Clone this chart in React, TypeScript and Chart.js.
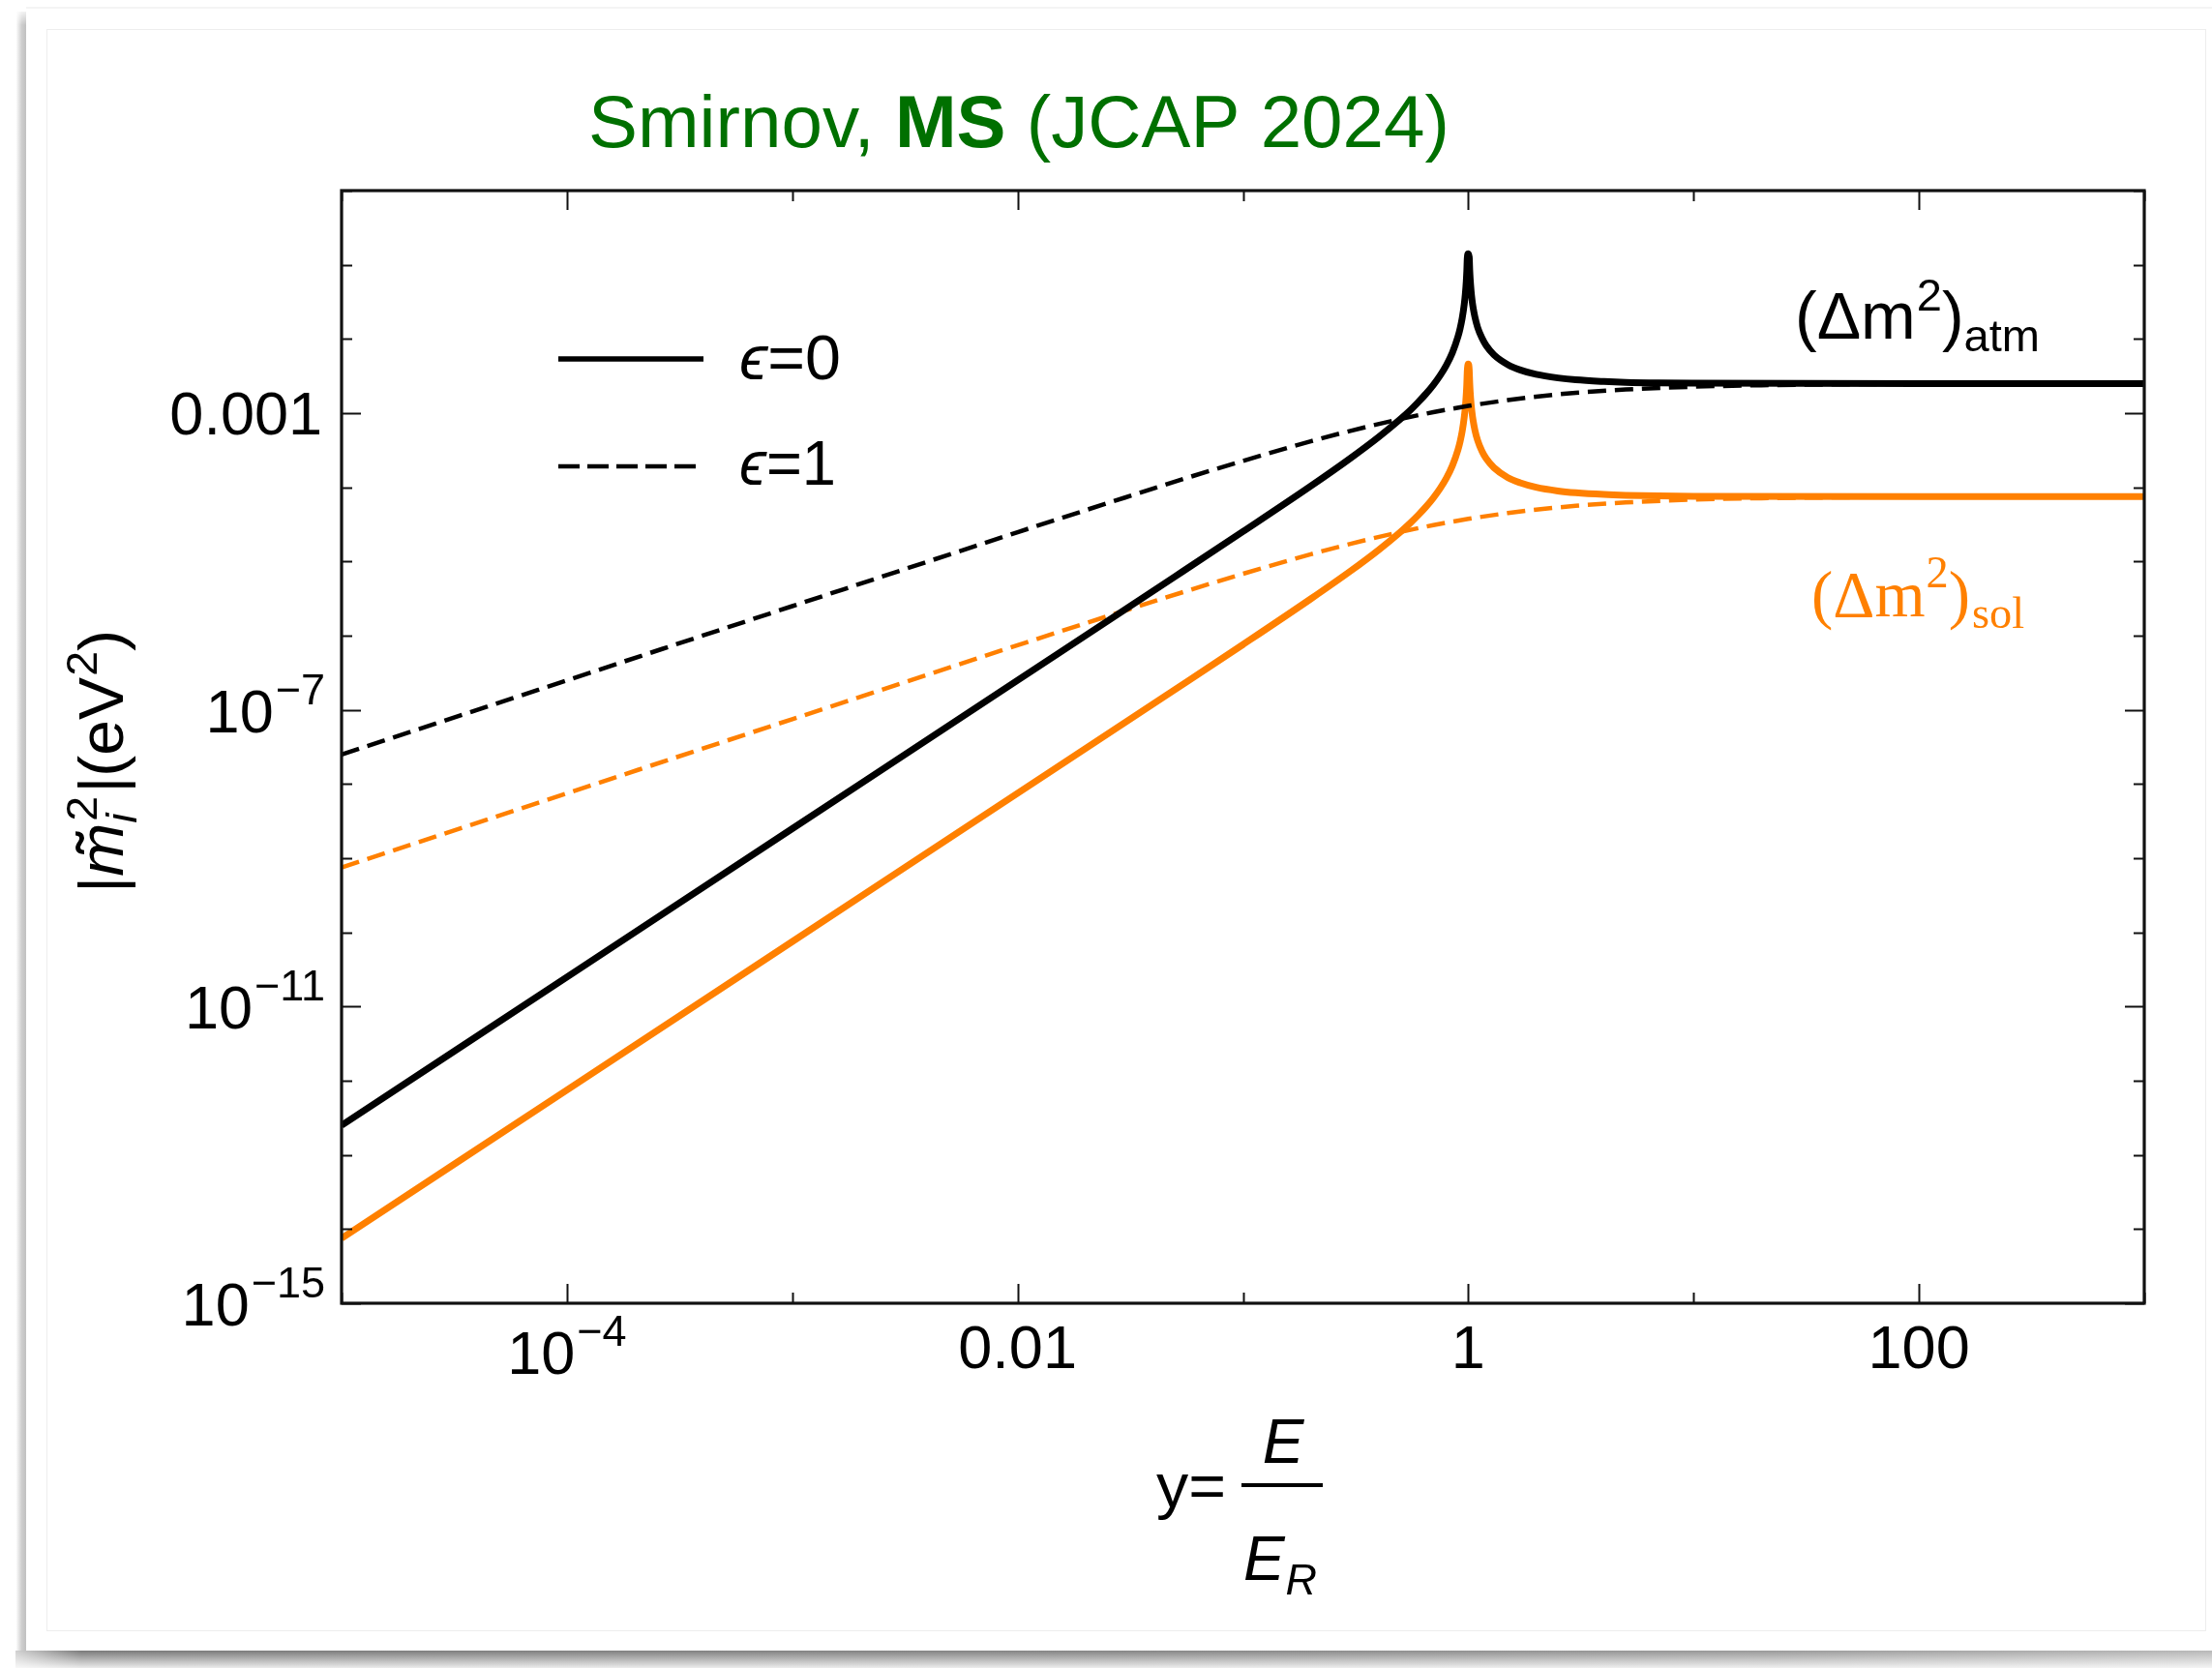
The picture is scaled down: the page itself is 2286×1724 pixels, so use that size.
import { useEffect, useRef } from "react";
import { Chart, registerables } from "chart.js";

Chart.register(...registerables);

const W = 2286;
const H = 1724;

const ORANGE = "#ff8000";
const GREEN = "#007000";
const SANS = '"Liberation Sans", Arial, Helvetica, "DejaVu Sans", sans-serif';
const SERIF = '"Liberation Serif", "Times New Roman", "DejaVu Serif", serif';

// y = E / E_R, sampled densely around the resonance at y = 1
const yResonance = [1e-5, 1e-4, 1e-3, 0.01, 0.05, 0.1, 0.2, 0.3, 0.4, 0.5, 0.55, 0.6, 0.65, 0.7, 0.75, 0.8, 0.85, 0.9, 0.92, 0.94, 0.96, 0.97, 0.98, 0.985, 0.99, 1, 1.01, 1.015, 1.02, 1.03, 1.04, 1.05, 1.07, 1.1, 1.15, 1.2, 1.3, 1.5, 1.7, 2, 2.5, 3, 4, 5, 7, 10, 100, 1000];
// |m̃²| (eV²) for ε = 0
const atmEps0 = [2.5e-13, 2.5e-11, 2.5e-9, 2.5e-7, 6.27e-6, 2.53e-5, 1.04e-4, 2.47e-4, 4.76e-4, 8.33e-4, 1.08e-3, 1.41e-3, 1.83e-3, 2.4e-3, 3.21e-3, 4.44e-3, 6.51e-3, 1.07e-2, 1.38e-2, 1.9e-2, 2.94e-2, 3.98e-2, 6.06e-2, 8.15e-2, 0.123, 0.141, 0.127, 8.52e-2, 6.44e-2, 4.36e-2, 3.31e-2, 2.69e-2, 1.98e-2, 1.44e-2, 1.03e-2, 8.18e-3, 6.12e-3, 4.5e-3, 3.82e-3, 3.33e-3, 2.98e-3, 2.81e-3, 2.67e-3, 2.6e-3, 2.55e-3, 2.53e-3, 2.5e-3, 2.5e-3];
const solEps0 = [7.5e-15, 7.5e-13, 7.5e-11, 7.5e-9, 1.88e-7, 7.58e-7, 3.13e-6, 7.42e-6, 1.43e-5, 2.5e-5, 3.25e-5, 4.22e-5, 5.49e-5, 7.21e-5, 9.64e-5, 1.33e-4, 1.95e-4, 3.2e-4, 4.13e-4, 5.69e-4, 8.82e-4, 1.19e-3, 1.82e-3, 2.44e-3, 3.69e-3, 4.6e-3, 3.81e-3, 2.56e-3, 1.93e-3, 1.31e-3, 9.94e-4, 8.07e-4, 5.93e-4, 4.32e-4, 3.08e-4, 2.45e-4, 1.84e-4, 1.35e-4, 1.15e-4, 1.0e-4, 8.93e-5, 8.44e-5, 8.0e-5, 7.81e-5, 7.66e-5, 7.58e-5, 7.5e-5, 7.5e-5];

// y = E / E_R for the ε = 1 curves
const ySmooth = [1e-5, 1e-4, 1e-3, 0.01, 0.03, 0.06, 0.1, 0.15, 0.2, 0.3, 0.5, 0.7, 1, 1.5, 2, 3, 5, 10, 20, 50, 100, 1000];
const atmEps1 = [2.5e-8, 2.5e-7, 2.5e-6, 2.48e-5, 7.28e-5, 1.42e-4, 2.27e-4, 3.26e-4, 4.17e-4, 5.77e-4, 8.33e-4, 1.03e-3, 1.25e-3, 1.5e-3, 1.67e-3, 1.88e-3, 2.08e-3, 2.27e-3, 2.38e-3, 2.45e-3, 2.48e-3, 2.5e-3];
const solEps1 = [7.5e-10, 7.5e-9, 7.49e-8, 7.43e-7, 2.18e-6, 4.25e-6, 6.82e-6, 9.78e-6, 1.25e-5, 1.73e-5, 2.5e-5, 3.09e-5, 3.75e-5, 4.5e-5, 5.0e-5, 5.63e-5, 6.25e-5, 6.82e-5, 7.14e-5, 7.35e-5, 7.43e-5, 7.5e-5];

// axis ticks: every decade, labels on every second (x) / fourth (y) decade
const X_MIN = 1e-5;
const X_MAX = 1e3;
const Y_MIN = 1e-15;
const Y_MAX = 1;
const xTickValues = [1e-5, 1e-4, 1e-3, 1e-2, 1e-1, 1, 10, 100, 1000];
const xTickLabels: [number, string, string][] = [
  [1e-4, "10", "\u22124"],
  [1e-2, "0.01", ""],
  [1, "1", ""],
  [100, "100", ""],
];
const yTickValues = [1e-15, 1e-14, 1e-13, 1e-12, 1e-11, 1e-10, 1e-9, 1e-8, 1e-7, 1e-6, 1e-5, 1e-4, 1e-3, 1e-2, 1e-1, 1];
const yTickLabels: [number, string, string][] = [
  [1e-3, "0.001", ""],
  [1e-7, "10", "\u22127"],
  [1e-11, "10", "\u221211"],
  [1e-15, "10", "\u221215"],
];

const legendLabels = ["=0", "=1"];
const titleParts = ["Smirnov, ", "MS", " (JCAP 2024)"];

type Run = {
  text: string;
  font: string;
  dy?: number;
  dx?: number;
  color?: string;
  stack?: boolean; // don't advance: next run starts at the same x
  accent?: { text: string; font: string; dx: number; dy: number }; // mark centred over the glyph
};

function runsWidth(ctx: CanvasRenderingContext2D, runs: Run[]) {
  let w = 0;
  let pending = 0;
  for (const r of runs) {
    ctx.font = r.font;
    const rw = ctx.measureText(r.text).width + (r.dx || 0);
    if (r.stack) {
      pending = Math.max(pending, rw);
    } else {
      w += Math.max(pending, rw);
      pending = 0;
    }
  }
  return w + pending;
}

function drawRuns(
  ctx: CanvasRenderingContext2D,
  runs: Run[],
  x: number,
  y: number,
  align: "left" | "right" | "center",
  targetW?: number
) {
  const natural = runsWidth(ctx, runs);
  const sx = targetW ? targetW / natural : 1;
  const total = natural * sx;
  const x0 = align === "left" ? x : align === "right" ? x - total : x - total / 2;
  ctx.save();
  ctx.translate(x0, y);
  ctx.scale(sx, 1);
  ctx.textAlign = "left";
  ctx.textBaseline = "alphabetic";
  let cx = 0;
  let pending = 0;
  for (const r of runs) {
    ctx.font = r.font;
    if (r.color) ctx.fillStyle = r.color;
    const rw = ctx.measureText(r.text).width;
    ctx.fillText(r.text, cx + (r.dx || 0), r.dy || 0);
    if (r.accent) {
      const a = r.accent;
      ctx.font = a.font;
      ctx.textAlign = "center";
      ctx.fillText(a.text, cx + (r.dx || 0) + rw / 2 + a.dx, (r.dy || 0) + a.dy);
      ctx.textAlign = "left";
      ctx.font = r.font;
    }
    const adv = rw + (r.dx || 0);
    if (r.stack) {
      pending = Math.max(pending, adv);
    } else {
      cx += Math.max(pending, adv);
      pending = 0;
    }
  }
  ctx.restore();
}

const decorPlugin = {
  id: "decor",
  beforeDraw(chart: any) {
    const ctx: CanvasRenderingContext2D = chart.ctx;
    ctx.save();
    ctx.fillStyle = "#ffffff";
    ctx.fillRect(0, 0, W, H);

    // slide card: left shadow strip
    const lg = ctx.createLinearGradient(17, 0, 27, 0);
    lg.addColorStop(0, "rgba(250,250,250,1)");
    lg.addColorStop(0.55, "rgba(205,205,205,1)");
    lg.addColorStop(1, "rgba(192,192,192,1)");
    ctx.fillStyle = lg;
    ctx.fillRect(17, 12, 10, 1694);
    const tg = ctx.createLinearGradient(0, 8, 0, 26);
    tg.addColorStop(0, "rgba(255,255,255,1)");
    tg.addColorStop(1, "rgba(255,255,255,0)");
    ctx.fillStyle = tg;
    ctx.fillRect(16, 8, 12, 18);
    ctx.fillStyle = "#f4f4f4";
    ctx.fillRect(27, 7, W - 27, 2);

    // bottom shadow band
    const bg = ctx.createLinearGradient(16, 0, W, 0);
    bg.addColorStop(0, "#d0d0d0");
    bg.addColorStop(0.03, "#7a7a7a");
    bg.addColorStop(0.5, "#858585");
    bg.addColorStop(0.8, "#9a9a9a");
    bg.addColorStop(1, "#b8b8b8");
    ctx.fillStyle = bg;
    ctx.fillRect(16, 1706, W - 16, 18);
    const vg = ctx.createLinearGradient(0, 1706, 0, 1724);
    vg.addColorStop(0, "rgba(255,255,255,0)");
    vg.addColorStop(1, "rgba(255,255,255,0.85)");
    ctx.fillStyle = vg;
    ctx.fillRect(16, 1706, W - 16, 18);

    // faint inner page outline
    ctx.strokeStyle = "#ededed";
    ctx.lineWidth = 1;
    ctx.strokeRect(48.5, 30.5, 2279 - 48, 1685 - 30);
    ctx.restore();
  },
  afterDatasetsDraw(chart: any) {
    const ctx: CanvasRenderingContext2D = chart.ctx;
    const { left, right, top, bottom } = chart.chartArea;
    const xs = chart.scales.x;
    const ys = chart.scales.y;
    ctx.save();

    // frame ticks (inside, mirrored on opposite sides)
    ctx.strokeStyle = "#111";
    ctx.lineWidth = 2;
    const xLabelled = xTickLabels.map((t) => t[0]);
    const yLabelled = yTickLabels.map((t) => t[0]);
    ctx.beginPath();
    for (const v of xTickValues) {
      const px = Math.round(xs.getPixelForValue(v)) + 0.5;
      const len = xLabelled.includes(v) ? 20 : 11;
      ctx.moveTo(px, bottom);
      ctx.lineTo(px, bottom - len);
      ctx.moveTo(px, top);
      ctx.lineTo(px, top + len);
    }
    for (const v of yTickValues) {
      const py = Math.round(ys.getPixelForValue(v)) + 0.5;
      const len = yLabelled.includes(v) ? 20 : 11;
      ctx.moveTo(left, py);
      ctx.lineTo(left + len, py);
      ctx.moveTo(right, py);
      ctx.lineTo(right - len, py);
    }
    ctx.stroke();

    // frame
    ctx.lineWidth = 3.2;
    ctx.strokeStyle = "#111";
    ctx.strokeRect(left, top, right - left, bottom - top);

    ctx.fillStyle = "#000";
    const FT = 63;
    const FS = 45;
    // x tick labels
    for (const [v, base, sup] of xTickLabels) {
      const px = xs.getPixelForValue(v);
      if (sup) {
        drawRuns(
          ctx,
          [
            { text: base, font: `${FT}px ${SANS}` },
            { text: sup, font: `${FS}px ${SANS}`, dy: -29, dx: 2 },
          ],
          px,
          bottom + 73,
          "center"
        );
      } else {
        drawRuns(ctx, [{ text: base, font: `${FT}px ${SANS}` }], px, bottom + 67, "center");
      }
    }
    // y tick labels
    for (const [v, base, sup] of yTickLabels) {
      const py = ys.getPixelForValue(v);
      if (sup) {
        drawRuns(
          ctx,
          [
            { text: base, font: `${FT}px ${SANS}` },
            { text: sup, font: `${FS}px ${SANS}`, dy: -29, dx: 2 },
          ],
          left - 17,
          py + 23,
          "right"
        );
      } else {
        drawRuns(ctx, [{ text: base, font: `${FT}px ${SANS}` }], left - 20, py + 22, "right");
      }
    }

    // legend
    ctx.strokeStyle = "#000";
    ctx.lineWidth = 5.5;
    ctx.beginPath();
    ctx.moveTo(577, 371);
    ctx.lineTo(727, 371);
    ctx.stroke();
    ctx.lineWidth = 4.5;
    ctx.setLineDash([22, 8]);
    ctx.beginPath();
    ctx.moveTo(577, 482);
    ctx.lineTo(719, 482);
    ctx.stroke();
    ctx.setLineDash([]);
    ctx.fillStyle = "#000";
    drawRuns(
      ctx,
      [
        { text: "\u03f5", font: `italic 65px ${SANS}` },
        { text: legendLabels[0], font: `65px ${SANS}` },
      ],
      764,
      392,
      "left",
      105
    );
    drawRuns(
      ctx,
      [
        { text: "\u03f5", font: `italic 65px ${SANS}` },
        { text: legendLabels[1], font: `65px ${SANS}` },
      ],
      764,
      501,
      "left",
      100
    );

    // curve annotations
    ctx.fillStyle = "#000";
    drawRuns(
      ctx,
      [
        { text: "(\u0394m", font: `68px ${SANS}` },
        { text: "2", font: `47px ${SANS}`, dy: -29, dx: 1 },
        { text: ")", font: `68px ${SANS}` },
        { text: "atm", font: `47px ${SANS}`, dy: 13 },
      ],
      1855,
      350,
      "left",
      253
    );
    ctx.fillStyle = ORANGE;
    drawRuns(
      ctx,
      [
        { text: "(\u0394m", font: `68px ${SERIF}` },
        { text: "2", font: `47px ${SERIF}`, dy: -30, dx: 1 },
        { text: ")", font: `68px ${SERIF}` },
        { text: "sol", font: `47px ${SERIF}`, dy: 12, dx: 2 },
      ],
      1872,
      637,
      "left",
      220
    );

    // x-axis title: y = E / E_R
    ctx.fillStyle = "#000";
    drawRuns(ctx, [{ text: "y=", font: `64px ${SANS}` }], 1195, 1558, "left", 72);
    ctx.fillRect(1283, 1533, 84, 4);
    drawRuns(ctx, [{ text: "E", font: `italic 64px ${SANS}` }], 1326, 1512, "center");
    drawRuns(
      ctx,
      [
        { text: "E", font: `italic 64px ${SANS}` },
        { text: "R", font: `italic 45px ${SANS}`, dy: 15, dx: 1 },
      ],
      1323,
      1633,
      "center"
    );

    // y-axis title, rotated: |m̃ᵢ²|(eV²)
    ctx.save();
    ctx.translate(127, 787);
    ctx.rotate(-Math.PI / 2);
    drawRuns(
      ctx,
      [
        { text: "|", font: `64px ${SANS}` },
        {
          text: "m",
          font: `italic 64px ${SANS}`,
          accent: { text: "\u02dc", font: `bold 60px ${SANS}`, dx: 6, dy: -6 },
        },
        { text: "2", font: `45px ${SANS}`, dy: -27, dx: 2, stack: true },
        { text: "i", font: `italic 45px ${SANS}`, dy: 14, dx: 0 },
        { text: "|(eV", font: `64px ${SANS}`, dx: 3 },
        { text: "2", font: `45px ${SANS}`, dy: -27, dx: 1 },
        { text: ")", font: `64px ${SANS}` },
      ],
      0,
      0,
      "center",
      272
    );
    ctx.restore();

    // title
    ctx.fillStyle = GREEN;
    drawRuns(
      ctx,
      [
        { text: titleParts[0], font: `76px ${SANS}` },
        { text: titleParts[1], font: `bold 76px ${SANS}` },
        { text: titleParts[2], font: `76px ${SANS}` },
      ],
      608,
      152,
      "left",
      890
    );

    ctx.restore();
  },
};

function toPoints(xv: number[], yv: number[]) {
  return xv.map((x, i) => ({ x, y: yv[i] }));
}

export default function App() {
  const ref = useRef<HTMLCanvasElement | null>(null);

  useEffect(() => {
    const canvas = ref.current;
    if (!canvas) return;
    const lineBase = {
      pointRadius: 0,
      cubicInterpolationMode: "monotone" as const,
      borderJoinStyle: "round" as const,
      borderCapStyle: "butt" as const,
    };
    const chart = new Chart(canvas, {
      type: "line",
      data: {
        datasets: [
          {
            ...lineBase,
            label: "(Δm²)atm, ε=0",
            data: toPoints(yResonance, atmEps0),
            borderColor: "#000",
            borderWidth: 7,
            order: 0,
          },
          {
            ...lineBase,
            label: "(Δm²)atm, ε=1",
            data: toPoints(ySmooth, atmEps1),
            borderColor: "#000",
            borderWidth: 4.5,
            borderDash: [19, 9],
            order: 1,
          },
          {
            ...lineBase,
            label: "(Δm²)sol, ε=0",
            data: toPoints(yResonance, solEps0),
            borderColor: ORANGE,
            borderWidth: 7,
            order: 2,
          },
          {
            ...lineBase,
            label: "(Δm²)sol, ε=1",
            data: toPoints(ySmooth, solEps1),
            borderColor: ORANGE,
            borderWidth: 4.5,
            borderDash: [19, 9],
            order: 3,
          },
        ],
      },
      options: {
        animation: false,
        responsive: false,
        devicePixelRatio: 1,
        layout: { padding: { left: 353, right: W - 2216, top: 197, bottom: H - 1347 } },
        plugins: {
          legend: { display: false },
          title: { display: false },
          tooltip: { enabled: false },
        },
        scales: {
          x: { type: "logarithmic", min: X_MIN, max: X_MAX, display: false },
          y: { type: "logarithmic", min: Y_MIN, max: Y_MAX, display: false },
        },
      },
      plugins: [decorPlugin],
    });
    return () => chart.destroy();
  }, []);

  return (
    <div style={{ position: "fixed", left: 0, top: 0, width: W, height: H, background: "#fff" }}>
      <canvas ref={ref} width={W} height={H} style={{ width: W, height: H, display: "block" }} />
    </div>
  );
}
